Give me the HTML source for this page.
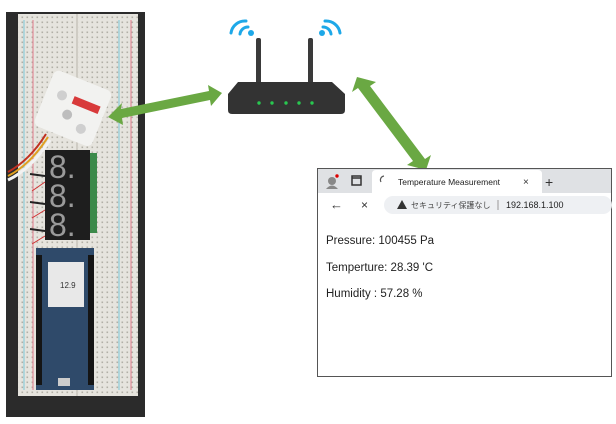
<!DOCTYPE html>
<html><head><meta charset="utf-8"><style>
html,body{margin:0;padding:0;background:#fff;width:616px;height:424px;overflow:hidden}
svg{display:block}
text{font-family:"Liberation Sans","Noto Sans CJK JP",sans-serif}
</style></head><body>
<svg width="616" height="424" viewBox="0 0 616 424" xmlns="http://www.w3.org/2000/svg">
<defs>
<pattern id="holes" width="5" height="5" patternUnits="userSpaceOnUse"><rect x="1.5" y="1.5" width="1.6" height="1.6" fill="#9a9890"/></pattern>
</defs>
<rect x="6" y="12" width="139" height="405" fill="#2b2b2b"/>
<rect x="18" y="14" width="120" height="382" fill="#e6e4de"/>
<rect x="18" y="14" width="120" height="382" fill="url(#holes)" opacity="0.7"/>
<line x1="24" y1="20" x2="24" y2="390" stroke="#7cc7d8" stroke-width="1"/>
<line x1="33" y1="20" x2="33" y2="390" stroke="#e07a8a" stroke-width="1"/>
<line x1="119" y1="20" x2="119" y2="390" stroke="#7cc7d8" stroke-width="1"/>
<line x1="131" y1="20" x2="131" y2="390" stroke="#e07a8a" stroke-width="1"/>
<line x1="77" y1="14" x2="77" y2="396" stroke="#cfccc4" stroke-width="2"/>
<path d="M8 180 Q30 170 50 140" stroke="#f2f2f2" stroke-width="3" fill="none"/>
<path d="M8 176 Q30 165 48 137" stroke="#e0a020" stroke-width="2" fill="none"/>
<path d="M8 172 Q30 160 46 134" stroke="#c03020" stroke-width="2" fill="none"/>
<g stroke="#222" stroke-width="2"><line x1="30" y1="174" x2="45" y2="176"/><line x1="30" y1="202" x2="45" y2="204"/><line x1="30" y1="229" x2="45" y2="231"/></g>
<g stroke="#d03030" stroke-width="1"><line x1="32" y1="191" x2="45" y2="182"/><line x1="32" y1="218" x2="45" y2="210"/><line x1="32" y1="244" x2="45" y2="236"/></g>
<g transform="rotate(22 72 108)">
<rect x="42" y="78" width="62" height="60" rx="6" fill="#f2f2f0"/>
<rect x="70" y="96" width="28" height="8" fill="#d83a3a"/>
<circle cx="58" cy="100" r="5" fill="#cfcfcf"/><circle cx="70" cy="116" r="5" fill="#bdbdbd"/><circle cx="88" cy="124" r="5" fill="#cfcfcf"/>
</g>
<rect x="45" y="150" width="45" height="90" fill="#1e1e1e"/>
<text x="49" y="178" font-size="32" fill="#9a9a9a">8.</text>
<text x="49" y="207" font-size="32" fill="#9a9a9a">8.</text>
<text x="49" y="236" font-size="32" fill="#9a9a9a">8.</text>
<rect x="90" y="153" width="7" height="80" fill="#3c8a4a"/>
<rect x="36" y="248" width="58" height="142" fill="#2f4a6a"/>
<rect x="36" y="255" width="6" height="130" fill="#151515"/>
<rect x="88" y="255" width="6" height="130" fill="#151515"/>
<rect x="48" y="262" width="36" height="45" fill="#e8e8e8"/>
<text x="60" y="288" font-size="8" fill="#333">12.9</text>
<rect x="58" y="378" width="12" height="8" fill="#ccc"/>
<polygon fill="#6aa843" points="108,117 122,103 121,109 209,91 208,85 222,93 211,106 210,100 122,118 123,125"/>
<polygon fill="#6aa843" points="357,77 376,82 370,86 425,159 431,155 426,170 407,165 413,161 358,88 352,92"/>
<rect x="256" y="38" width="5" height="48" rx="2" fill="#3a3a3a"/>
<rect x="308" y="38" width="5" height="48" rx="2" fill="#3a3a3a"/>
<path d="M238 82 L332 82 L345 94 L345 110 Q345 114 341 114 L232 114 Q228 114 228 110 L228 94 Z" fill="#333"/>
<g fill="#28c850"><circle cx="259" cy="103" r="1.7"/><circle cx="272" cy="103" r="1.7"/><circle cx="286" cy="103" r="1.7"/><circle cx="299" cy="103" r="1.7"/><circle cx="312" cy="103" r="1.7"/></g>
<g fill="none" stroke="#1ea8e8" stroke-width="3" stroke-linecap="round">
<path d="M246 21 A14 14 0 0 0 231 33"/><path d="M248 27 A8 8 0 0 0 240 34"/>
<path d="M325 21 A14 14 0 0 1 340 33"/><path d="M323 27 A8 8 0 0 1 331 34"/>
</g>
<circle cx="251" cy="33" r="3" fill="#1ea8e8"/><circle cx="322" cy="33" r="3" fill="#1ea8e8"/>
<rect x="317.5" y="168.5" width="294" height="208" fill="#fff" stroke="#555" stroke-width="1"/>
<rect x="318" y="169" width="293" height="24" fill="#dfe1e4"/>
<path d="M372 193 L372 174 Q372 170 376 170 L538 170 Q542 170 542 174 L542 193 Z" fill="#fff"/>
<rect x="318" y="193" width="293" height="24" fill="#fff"/>
<rect x="384" y="196" width="228" height="18" rx="9" fill="#eef0f3"/>
<circle cx="332" cy="181" r="4" fill="#888"/><path d="M326 189 Q332 182 338 189 Z" fill="#888"/><circle cx="337" cy="176" r="1.7" fill="#d00"/>
<rect x="352" y="176" width="9" height="9" fill="none" stroke="#333" stroke-width="1.5"/><line x1="352" y1="178" x2="361" y2="178" stroke="#333" stroke-width="1.5"/>
<path d="M384 176 A4 4 0 0 0 381 182" stroke="#555" fill="none" stroke-width="1.2"/>
<text x="398" y="185" font-size="8.5" fill="#222">Temperature Measurement</text>
<text x="523" y="185" font-size="10" fill="#333">×</text>
<text x="545" y="187" font-size="14" fill="#333">+</text>
<text x="330" y="209" font-size="13" fill="#333">←</text>
<text x="361" y="209" font-size="12" fill="#333">×</text>
<path d="M397 209 L402 200 L407 209 Z" fill="#333"/>
<text x="411" y="208" font-size="8" fill="#444">セキュリティ保護なし</text>
<line x1="498" y1="200" x2="498" y2="210" stroke="#999"/>
<text x="506" y="208" font-size="9" fill="#222">192.168.1.100</text>
<text x="326" y="244" font-size="11.5" fill="#222">Pressure: 100455 Pa</text>
<text x="326" y="271" font-size="11.5" fill="#222">Temperture: 28.39 'C</text>
<text x="326" y="297" font-size="11.5" fill="#222">Humidity : 57.28 %</text>
</svg>
</body></html>
